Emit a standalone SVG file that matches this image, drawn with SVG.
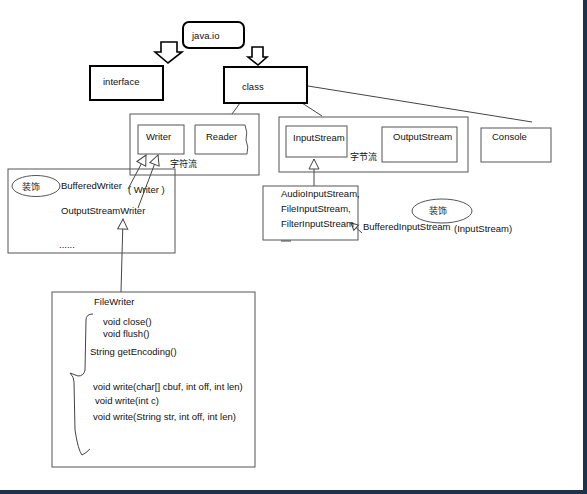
<svg xmlns="http://www.w3.org/2000/svg" width="587" height="494" viewBox="0 0 587 494">
<style>
text{font-family:"Liberation Sans",Arial,"Noto Sans CJK SC",sans-serif;font-size:9.5px;fill:#111}
.cjk{font-family:"Noto Sans CJK SC","Liberation Sans",sans-serif;font-size:9px}
.thick{fill:none;stroke:#000;stroke-width:2}
.box{fill:none;stroke:#555;stroke-width:1}
.ln{fill:none;stroke:#444;stroke-width:1}
.blk{fill:#fff;stroke:#000;stroke-width:1.6;stroke-linejoin:miter}
</style>
<defs>
<marker id="tri" markerUnits="userSpaceOnUse" markerWidth="14" markerHeight="14" viewBox="0 0 14 14" refX="12" refY="7" orient="auto">
<path d="M2,2 L12,7 L2,12 Z" fill="#fff" stroke="#444" stroke-width="1"/>
</marker>
<marker id="tris" markerUnits="userSpaceOnUse" markerWidth="10" markerHeight="10" viewBox="0 0 10 10" refX="9" refY="5" orient="auto">
<path d="M2,1.5 L9,5 L2,8.5 Z" fill="#fff" stroke="#444" stroke-width="1"/>
</marker>
</defs>
<rect width="587" height="494" fill="#fff"/>
<rect x="583" y="0" width="4" height="494" fill="#1b3350"/>
<rect x="0" y="490" width="587" height="4" fill="#1b3350"/>

<g id="connectors">
<polygon class="blk" points="161,42 177,42 177,52 182,52 168,63 155,52 161,52"/>
<polygon class="blk" points="252,47 263,47 263,57 267,57 258,65 248,57 252,57"/>
<line class="ln" x1="240" y1="103" x2="232" y2="114"/>
<line class="ln" x1="302" y1="103" x2="322" y2="116"/>
<line class="ln" x1="308" y1="86" x2="532" y2="122"/>
<line class="ln" x1="128" y1="189" x2="146" y2="155" marker-end="url(#tri)"/>
<line class="ln" x1="138" y1="208" x2="158" y2="155" marker-end="url(#tri)"/>
<line class="ln" x1="121" y1="292" x2="123" y2="219" marker-end="url(#tri)"/>
<line class="ln" x1="314" y1="186" x2="314" y2="159" marker-end="url(#tri)"/>
<line class="ln" x1="362" y1="233" x2="351" y2="223" marker-end="url(#tris)"/>
</g>

<g id="javaio">
<rect class="thick" x="183" y="22" width="61" height="26" rx="6"/>
<text x="192" y="39">java.io</text>
</g>
<g id="interface">
<rect class="thick" x="90" y="66" width="73" height="34"/>
<text x="103" y="85">interface</text>
</g>
<g id="class">
<rect class="thick" x="224" y="67" width="83" height="36"/>
<text x="242" y="90">class</text>
</g>

<g id="charstream">
<rect class="box" x="130" y="114" width="129" height="61"/>
<text class="cjk" x="170" y="167">字符流</text>
</g>
<g id="writer">
<rect class="box" x="138" y="125" width="46" height="29"/>
<text x="146" y="140">Writer</text>
</g>
<g id="reader">
<path class="box" d="M195,125 L245,125 Q248,132 246,140 Q249,147 247,154 L195,154 Z"/>
<text x="206" y="140">Reader</text>
</g>

<g id="bytestream">
<rect class="box" x="279" y="117" width="189" height="55"/>
<text class="cjk" x="350" y="160">字节流</text>
</g>
<g id="inputstream">
<rect class="box" x="286" y="126" width="61" height="31"/>
<text x="293" y="141">InputStream</text>
</g>
<g id="outputstream">
<rect class="box" x="382" y="127" width="75" height="35"/>
<text x="393" y="140">OutputStream</text>
</g>
<g id="console">
<rect class="box" x="481" y="128" width="70" height="34"/>
<text x="492" y="140">Console</text>
</g>

<g id="writerimpl">
<rect class="box" x="8" y="169" width="167" height="84"/>
<ellipse class="box" cx="36" cy="186" rx="24" ry="10.5"/>
<text class="cjk" x="22" y="190">装饰</text>
<text x="61" y="189">BufferedWriter</text>
<text x="128" y="193">( Writer )</text>
<text x="61" y="214">OutputStreamWriter</text>
<text x="59" y="248">......</text>
</g>

<g id="inputimpl">
<rect class="box" x="263" y="186" width="95" height="54"/>
<text x="281" y="197">AudioInputStream,</text>
<text x="281" y="212">FileInputStream,</text>
<text x="281" y="227">FilterInputStream</text>
<line class="ln" x1="281" y1="241" x2="291" y2="241"/>
</g>
<g id="bufferedinput">
<ellipse class="box" cx="442" cy="211" rx="30" ry="12"/>
<text class="cjk" x="429" y="214">装饰</text>
<text x="363" y="230">BufferedInputStream</text>
<text x="454" y="232">(InputStream)</text>
</g>

<g id="filewriter">
<rect class="box" x="52" y="292" width="203" height="175"/>
<text x="94" y="305">FileWriter</text>
<text x="103" y="325">void close()</text>
<text x="103" y="337">void flush()</text>
<text x="90" y="355">String getEncoding()</text>
<text x="93" y="390">void write(char[] cbuf, int off, int len)</text>
<text x="95" y="404">void write(int c)</text>
<text x="93" y="420">void write(String str, int off, int len)</text>
<path class="ln" d="M93,314 Q86,314 86,320 L85,370 Q84,376 78,376 L70,373 M70,373 Q74,377 74,382 L75,430 Q78,450 82,455 Q86,453 90,449"/>
</g>
</svg>
